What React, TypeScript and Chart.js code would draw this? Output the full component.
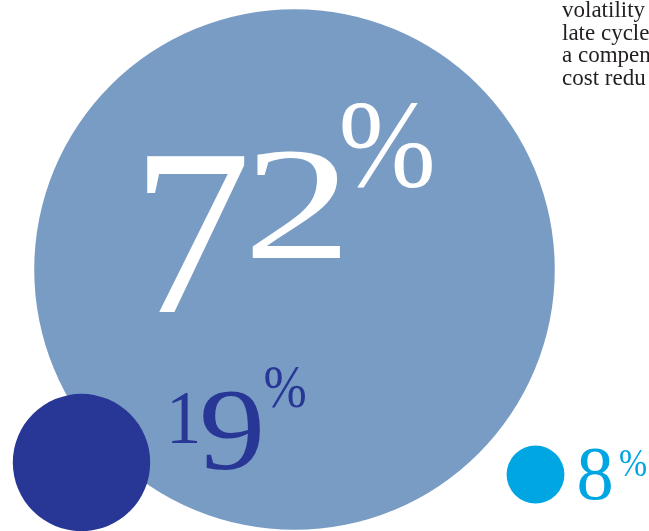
import React, { useEffect, useRef } from "react";
import { Chart, registerables } from "chart.js";

Chart.register(...registerables);

// ---- data ----
const categories = ["Largest share", "Second share", "Smallest share"];
const shares = [72, 19, 8];
const bubbleColors = ["#799CC4", "#283796", "#00A6E2"];
const labelColors = ["#FFFFFF", "#283796", "#00A6E2"];
const sideText = ["volatility", "late cycle", "a compen", "cost redu"];

// ---- layout (not data) ----
const W = 649;
const H = 531;
const centerX = [294.5, 81.5, 535.5];
const centerY = [269.5, 462.5, 474.5];
const PX_PER_PCT = 3.615;
const SERIF = "'Liberation Serif', 'DejaVu Serif', serif";

// ink boxes of each label glyph relative to its bubble centre: [x0, x1, y0, y1]
const glyphBoxes: number[][][] = [
  [
    [-147.5, -49.5, -112.5, 42.5],
    [-42.5, 45.5, -117.5, -11.5],
    [47.5, 137.5, -166.5, -81.5],
  ],
  [
    [90.5, 115.5, -69.5, -19.5],
    [121.5, 178.5, -70.5, 7.5],
    [183.5, 223.5, -95.5, -54.5],
  ],
  [
    [43.5, 75.5, -25.5, 25.5],
    [84.5, 110.5, -24.5, 2.5],
  ],
];

function drawGlyphInBox(
  ctx: CanvasRenderingContext2D,
  ch: string,
  x0: number,
  x1: number,
  y0: number,
  y1: number
) {
  ctx.font = `200px ${SERIF}`;
  ctx.textAlign = "left";
  ctx.textBaseline = "alphabetic";
  const m = ctx.measureText(ch);
  const inkW = m.actualBoundingBoxLeft + m.actualBoundingBoxRight;
  const inkH = m.actualBoundingBoxAscent + m.actualBoundingBoxDescent;
  if (!inkW || !inkH) return;
  ctx.save();
  ctx.translate(x0, y0);
  ctx.scale((x1 - x0) / inkW, (y1 - y0) / inkH);
  ctx.fillText(ch, m.actualBoundingBoxLeft, m.actualBoundingBoxAscent);
  ctx.restore();
}

const labelPlugin = {
  id: "bubbleLabels",
  afterDatasetsDraw(chart: any) {
    const ctx: CanvasRenderingContext2D = chart.ctx;
    const meta = chart.getDatasetMeta(0);
    meta.data.forEach((el: any, i: number) => {
      const text = `${shares[i]}%`;
      const boxes = glyphBoxes[i];
      ctx.fillStyle = labelColors[i];
      Array.from(text).forEach((ch, k) => {
        const b = boxes[k];
        if (!b) return;
        drawGlyphInBox(ctx, ch, el.x + b[0], el.x + b[1], el.y + b[2], el.y + b[3]);
      });
    });
    // neighbouring column text (cropped at the right edge)
    ctx.save();
    ctx.fillStyle = "#231F20";
    ctx.font = `23px ${SERIF}`;
    ctx.textAlign = "left";
    ctx.textBaseline = "alphabetic";
    sideText.forEach((line, i) => {
      ctx.fillText(line, 562, 17 + i * 22.5);
    });
    ctx.restore();
  },
};

export default function App() {
  const ref = useRef<HTMLCanvasElement | null>(null);

  useEffect(() => {
    document.body.style.margin = "0";
    document.body.style.overflow = "hidden";
    if (!ref.current) return;
    const chart = new Chart(ref.current, {
      type: "bubble",
      data: {
        labels: categories,
        datasets: [
          {
            label: "Share",
            data: shares.map((v, i) => ({ x: centerX[i], y: centerY[i], r: v * PX_PER_PCT })),
            backgroundColor: bubbleColors,
            borderWidth: 0,
            hoverBorderWidth: 0,
            clip: false as any,
          },
        ],
      },
      options: {
        responsive: false,
        maintainAspectRatio: false,
        animation: false,
        events: [],
        layout: { padding: 0, autoPadding: false },
        scales: {
          x: { type: "linear", min: 0, max: W, display: false },
          y: { type: "linear", min: 0, max: H, reverse: true, display: false },
        },
        plugins: {
          legend: { display: false },
          tooltip: { enabled: false },
        },
      },
      plugins: [labelPlugin],
    });
    return () => chart.destroy();
  }, []);

  return (
    <div style={{ width: W, height: H, position: "relative", overflow: "hidden", background: "#fff" }}>
      <canvas ref={ref} width={W} height={H} style={{ display: "block" }} />
    </div>
  );
}
